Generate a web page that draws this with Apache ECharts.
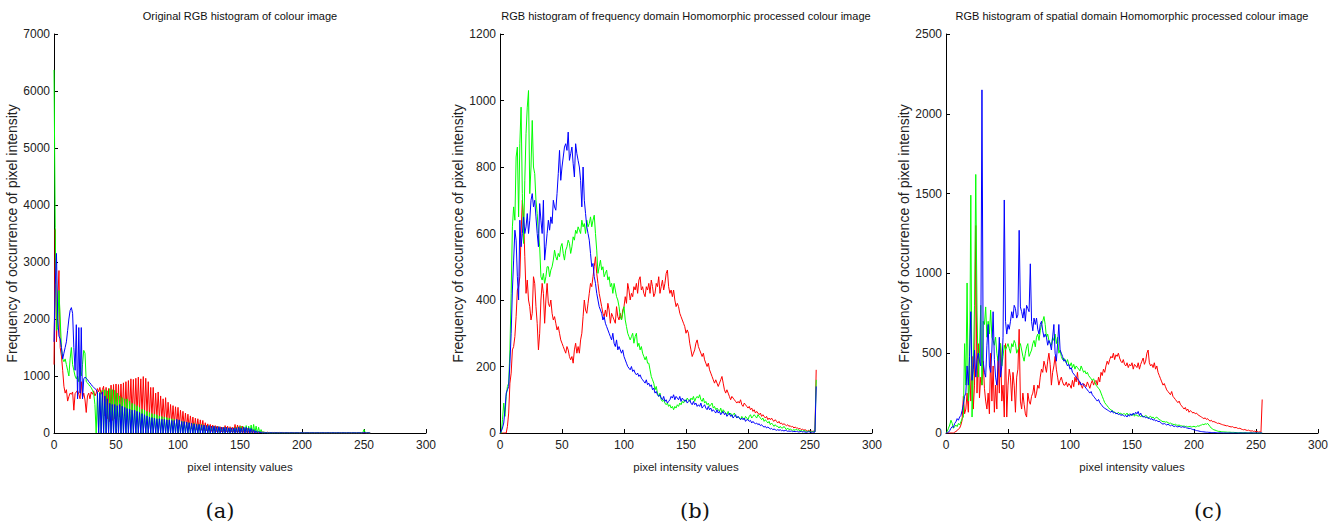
<!DOCTYPE html>
<html>
<head>
<meta charset="utf-8">
<script src="https://cdn.jsdelivr.net/npm/echarts@6/dist/echarts.min.js"></script>
<style>
html,body{margin:0;padding:0;background:#fff;}
#chart{width:1340px;height:526px;}
</style>
</head>
<body>
<div id="chart"></div>
<script>
// ---------- DATA ----------
const titles = [
  "Original RGB histogram of colour image",
  "RGB histogram of frequency domain Homomorphic processed colour image",
  "RGB histogram of spatial domain Homomorphic processed colour image"
];
const subLabels = ["(a)", "(b)", "(c)"];
const xName = "pixel intensity values";
const yName = "Frequency of occurrence of pixel intensity";
const xTicks = [0, 50, 100, 150, 200, 250, 300];
const yMaxes = [7000, 1200, 2500];
const yIntervals = [1000, 200, 500];

// Panel (a): original image
const aRed = [
1200,3570,1600,2300,2850,1500,1350,1100,820,700,760,560,640,700,680,720,
400,690,720,750,680,600,900,620,700,580,360,650,700,600,720,680,
740,650,700,780,720,800,680,760,820,300,800,250,780,200,840,220,
850,250,860,300,850,280,860,320,880,300,900,280,920,350,950,300,
940,320,960,300,980,350,950,300,990,320,960,300,900,280,800,260,
800,240,700,250,720,230,650,220,600,200,620,180,540,170,500,160,
480,150,460,130,450,120,400,110,380,100,350,90,330,80,300,70,
280,60,260,60,250,50,230,50,220,40,180,40,160,30,150,30,
140,30,130,25,120,25,110,20,100,20,130,20,120,20,110,20,
100,15,150,15,140,15,130,15,120,10,90,10,80,10,60,10,
60,10,40,10,30,10,20,5,20,5,15,5,15,5,10,5,
10,5,10,5,10,5,10,5,10,5,8,5,8,5,8,4,
8,4,8,4,6,4,6,4,6,4,6,3,6,3,6,3,
5,3,5,3,5,3,5,3,5,2,5,2,5,2,5,2,
4,2,4,2,4,2,4,2,4,2,4,2,3,2,3,2,
3,2,3,2,3,2,3,2,3,2,3,2,3,2,3,2
];
const aGreen = [
6370,3600,1800,1850,2500,2000,1500,1300,1250,1300,1200,1100,1000,1300,1500,1200,
1100,1000,950,1000,900,1100,1000,1200,1450,1400,900,880,850,820,800,750,
700,500,0,700,0,720,0,750,0,760,0,740,0,780,0,760,
0,750,0,700,0,650,0,620,0,600,0,600,0,560,0,520,
0,500,0,480,0,450,0,420,0,400,0,380,0,360,0,340,
0,330,0,320,0,300,0,290,0,280,0,270,0,260,0,250,
0,240,0,230,0,220,0,210,0,200,0,190,0,180,0,170,
0,170,0,160,0,150,0,150,0,140,0,130,0,130,0,120,
0,120,0,110,0,110,0,100,0,100,0,100,0,90,0,90,
0,90,0,100,0,110,0,120,0,110,0,130,0,120,0,140,
0,150,0,120,0,100,0,60,0,20,0,10,0,5,0,5,
0,5,0,5,0,5,0,5,0,5,0,5,0,5,0,5,
0,5,0,5,0,5,0,5,0,5,0,5,0,5,0,5,
0,5,0,5,0,5,0,5,0,5,0,5,0,5,0,5,
0,5,0,5,0,5,0,5,0,5,0,5,0,5,0,5,
0,5,0,5,0,5,0,5,0,5,60,5,0,5,0,0
];
const aBlue = [
1600,2600,3150,2000,1700,1650,1500,1300,1400,1500,1600,1800,2000,2150,2200,2100,
1500,1100,1900,600,1850,700,1850,600,950,980,960,940,900,880,850,820,
800,780,760,720,0,700,0,720,0,650,0,600,0,520,0,500,
0,500,0,480,0,500,0,470,0,450,0,430,0,420,0,400,
0,400,0,380,0,360,0,340,0,320,0,300,0,280,0,270,
0,260,0,250,0,250,0,240,0,240,0,230,0,230,0,220,
0,220,0,240,0,230,0,200,0,200,0,190,0,180,0,170,
0,160,0,150,0,150,0,140,0,140,0,130,0,130,0,120,
0,120,0,110,0,110,0,100,0,100,0,100,0,90,0,90,
0,90,0,90,0,100,0,90,0,100,0,100,0,90,0,80,
0,60,0,40,0,30,0,20,0,10,0,5,0,5,0,5,
0,5,0,5,0,5,0,5,0,5,0,5,0,5,0,5,
0,5,0,5,0,5,0,5,0,5,0,5,0,5,0,5,
0,5,0,5,0,5,0,5,0,5,0,5,0,5,0,5,
0,5,0,5,0,5,0,5,0,5,0,5,0,5,0,5,
0,5,0,5,0,5,0,5,0,5,0,5,0,5,0,0
];

// Panel (b): frequency domain homomorphic
const bRed = [
0,0,0,0,0,0,20,60,150,180,250,260,290,350,430,440,
470,600,700,650,530,420,460,400,380,340,360,470,450,380,330,250,
300,400,450,420,330,400,450,390,380,400,360,340,350,330,310,320,
300,280,270,260,250,240,260,250,230,220,230,210,250,270,240,260,
240,280,300,350,400,370,360,390,420,450,440,470,500,530,480,450,
420,400,380,360,350,370,350,390,370,330,360,350,340,330,380,350,
340,360,340,370,380,410,390,450,430,400,420,410,440,430,450,420,
460,470,430,440,420,410,440,430,450,420,460,440,410,420,450,440,
470,420,440,460,430,450,480,490,440,420,430,410,430,400,380,390,
380,360,350,340,330,320,300,310,300,270,250,230,240,250,270,280,
260,250,240,230,240,220,210,200,210,190,180,170,160,150,160,150,
140,150,160,170,150,130,120,130,120,110,100,110,105,100,95,90,
95,90,100,85,80,90,85,80,75,80,70,75,65,70,60,65,
60,55,60,50,55,50,45,50,40,45,40,45,38,35,40,35,
30,35,28,30,25,28,25,22,25,20,22,18,20,15,18,15,
15,12,14,10,12,8,10,8,6,8,5,6,4,6,5,190
];
const bGreen = [
0,0,40,90,50,110,140,150,250,420,620,680,640,830,860,650,
870,980,720,570,760,900,980,1030,720,800,940,800,780,700,660,600,
560,470,460,480,450,470,500,500,470,490,500,520,550,530,520,540,
530,560,570,540,520,550,560,580,570,540,560,590,580,610,600,620,
610,600,640,620,630,600,640,620,630,650,620,640,655,600,550,480,
500,520,490,500,470,480,490,460,470,440,450,420,450,430,410,400,
380,350,340,360,380,340,320,300,290,280,290,300,270,290,300,260,
270,250,260,240,230,220,230,210,210,190,170,160,150,130,140,120,
110,120,100,95,100,90,85,90,80,85,75,80,70,80,75,85,
80,90,85,95,90,100,95,105,100,95,105,100,110,95,105,110,
105,115,100,95,105,90,95,85,90,80,85,90,75,80,70,75,
70,65,75,60,70,65,60,55,65,55,60,50,55,60,50,45,
50,45,40,50,45,40,50,45,40,50,55,45,50,55,50,45,
55,50,45,40,45,35,40,35,30,35,25,30,25,20,25,20,
20,15,20,15,15,20,15,10,15,10,12,10,8,10,8,12,
8,10,6,8,5,8,6,5,4,6,5,3,5,4,3,160
];
const bBlue = [
0,5,15,30,70,120,130,140,210,300,430,520,610,580,470,400,
640,560,600,650,600,620,660,600,640,700,720,680,700,650,600,560,
690,640,600,700,520,560,600,640,610,650,630,700,680,670,720,780,
850,760,800,830,860,870,850,905,820,840,860,810,770,870,840,820,
800,760,680,800,700,660,620,600,580,540,500,510,470,450,420,400,
380,370,360,340,350,330,320,310,300,290,280,300,270,260,280,250,
260,250,240,250,230,220,210,200,195,190,200,185,190,180,175,180,
170,175,165,160,155,150,160,145,150,140,145,130,135,120,125,115,
110,115,105,100,110,95,100,90,95,100,110,105,115,100,110,105,
100,110,95,105,100,95,100,90,95,100,90,85,95,85,90,80,
85,80,90,75,80,85,75,70,80,70,75,65,70,65,60,70,
60,65,55,60,65,55,60,50,55,60,50,55,45,50,55,45,
50,45,40,45,40,45,35,40,40,35,38,30,35,30,28,30,
25,28,22,25,20,18,20,15,18,15,12,14,10,12,10,8,
10,8,10,7,8,6,8,7,5,6,5,6,4,5,4,5,
4,3,4,5,3,4,3,2,3,4,3,2,3,2,3,140
];

// Panel (c): spatial domain homomorphic
const cRed = [
0,0,0,0,0,0,0,5,10,15,25,30,50,80,230,120,
150,250,130,420,200,480,150,300,1300,250,560,220,350,300,450,280,
200,150,250,120,500,200,420,130,300,150,480,250,560,200,300,100,
560,100,300,400,350,200,380,300,130,350,400,650,200,150,250,180,
120,100,250,200,180,230,250,300,220,250,300,280,350,400,380,450,
420,380,450,500,430,300,380,420,480,400,350,300,330,350,320,300,
300,320,290,310,300,280,330,290,350,320,380,300,320,300,280,310,
300,290,320,300,280,310,330,300,320,330,300,350,320,380,360,400,
380,420,450,430,460,480,470,500,460,490,480,500,470,450,440,460,
430,420,440,410,430,420,440,400,430,420,410,440,400,430,450,470,
430,450,500,520,440,420,430,410,440,400,420,380,360,340,320,300,
310,290,270,260,250,240,260,230,220,210,200,190,200,180,170,160,
150,160,140,150,130,140,135,125,130,120,125,115,110,105,100,95,
90,95,85,90,80,75,80,70,72,68,65,60,62,58,55,52,
50,48,45,46,42,40,38,40,35,33,35,30,28,30,25,22,
20,22,18,16,18,14,12,14,10,12,8,10,6,8,5,210
];
const cGreen = [
0,10,30,50,80,60,30,40,50,40,60,50,70,90,100,560,
300,940,200,300,1490,100,400,800,1620,770,350,500,800,300,700,680,
790,600,700,620,770,600,580,550,600,500,450,520,560,420,480,550,
520,540,560,530,500,560,540,580,560,500,520,540,560,520,480,450,
500,540,560,480,500,520,560,580,540,600,620,580,640,680,700,730,
680,600,620,580,560,550,600,580,620,560,600,500,520,480,460,470,
450,440,460,430,420,440,410,430,400,420,410,400,390,420,400,380,
390,370,380,360,350,340,330,340,320,300,290,280,270,250,230,210,
190,180,170,160,150,145,140,135,130,125,120,130,120,125,115,120,
120,115,125,110,120,115,110,120,105,115,110,105,110,100,110,105,
100,110,105,95,100,105,95,100,90,95,100,90,85,80,75,70,
72,68,70,65,60,62,58,55,52,55,50,48,50,46,45,42,
44,40,42,38,40,42,38,40,42,38,40,45,42,48,50,55,
52,58,55,60,50,40,30,25,20,18,15,12,10,10,8,8,
7,6,6,5,5,5,4,4,4,3,3,3,2,2,2,2,
2,2,1,1,1,1,1,1,0,0,0,0,0,0,0,0
];
const cBlue = [
0,0,5,15,30,40,35,60,70,90,80,100,110,140,180,230,
250,420,300,480,760,330,400,520,350,460,500,450,420,2150,450,380,
350,550,680,420,380,520,760,460,350,300,420,600,350,420,600,1460,
700,620,680,650,700,760,720,800,780,720,740,1270,790,760,720,780,
700,800,780,760,1060,700,640,720,680,720,650,620,680,700,640,600,
620,600,550,580,560,520,600,680,500,450,560,680,520,500,480,450,
460,440,420,430,400,410,380,370,360,350,340,330,320,300,310,300,
290,280,270,260,250,260,240,230,220,210,200,210,190,180,170,160,
155,150,145,140,135,130,140,125,130,120,125,115,120,110,115,110,
105,110,100,115,105,120,110,125,115,130,120,135,110,125,105,100,
105,95,100,90,95,85,90,80,85,75,80,70,75,65,60,55,
60,55,50,55,50,45,50,45,40,45,40,38,42,38,36,40,
35,38,32,30,28,30,25,22,20,18,15,14,12,10,9,8,
7,6,5,5,4,4,3,3,2,2,2,1,1,1,1,1,
0,0,0,0,0,0,0,0,0,0,0,0,0,0,0,0,
0,0,0,0,0,0,0,0,0,0,0,0,0,0,0,0
];

const panels = [
  [aRed, aGreen, aBlue],
  [bRed, bGreen, bBlue],
  [cRed, cGreen, cBlue]
];
const channelColors = ["#ff0000", "#00ff00", "#0000ff"];

// ---------- LAYOUT ----------
const gridLefts = [54, 500, 946];
const gridTop = 34, gridW = 372, gridH = 399;
const subLabelX = [220, 695, 1208];
const sans = "'Liberation Sans',Arial,sans-serif";

const toPairs = arr => arr.map((v, i) => [i, v]);

const grid = [], xAxis = [], yAxis = [], series = [], graphic = [];
panels.forEach((chs, p) => {
  grid.push({left: gridLefts[p], top: gridTop, width: gridW, height: gridH, containLabel: false, outerBoundsMode: 'none'});
  xAxis.push({
    type: 'value', gridIndex: p, min: xTicks[0], max: xTicks[xTicks.length - 1], interval: 50,
    name: xName, nameLocation: 'middle', nameGap: 28,
    nameTextStyle: {fontFamily: sans, fontSize: 11.5, color: '#222'},
    axisLine: {show: true, onZero: false, lineStyle: {color: '#000', width: 1}},
    axisTick: {show: true, inside: true, length: 4, lineStyle: {color: '#000'}},
    axisLabel: {fontFamily: sans, fontSize: 12, color: '#222', margin: 6, formatter: v => String(v)},
    splitLine: {show: false}
  });
  yAxis.push({
    type: 'value', gridIndex: p, min: 0, max: yMaxes[p], interval: yIntervals[p],
    name: yName, nameLocation: 'middle', nameGap: 31,
    nameTextStyle: {fontFamily: sans, fontSize: 14, color: '#222'},
    axisLine: {show: true, lineStyle: {color: '#000', width: 1}},
    axisTick: {show: true, inside: true, length: 4, lineStyle: {color: '#000'}},
    axisLabel: {fontFamily: sans, fontSize: 12, color: '#222', margin: 4, formatter: v => String(v)},
    splitLine: {show: false}
  });
  chs.forEach((arr, c) => {
    series.push({
      type: 'line', xAxisIndex: p, yAxisIndex: p, data: toPairs(arr),
      showSymbol: false, symbol: 'none', silent: true,
      lineStyle: {color: channelColors[c], width: 1},
      itemStyle: {color: channelColors[c]}
    });
  });
  graphic.push({
    type: 'text', x: gridLefts[p] + gridW / 2, y: 16,
    style: {text: titles[p], fontFamily: sans, fontSize: 11, fill: '#111', textAlign: 'center', textVerticalAlign: 'middle'}
  });
  graphic.push({
    type: 'text', x: subLabelX[p], y: 511,
    style: {text: subLabels[p], fontFamily: "'DejaVu Serif','Liberation Serif',serif", fontSize: 21, fill: '#111', textAlign: 'center', textVerticalAlign: 'middle'}
  });
});

const chart = echarts.init(document.getElementById('chart'), null, {renderer: 'svg'});
chart.setOption({
  animation: false,
  backgroundColor: '#fff',
  grid, xAxis, yAxis, series, graphic
});
</script>
</body>
</html>
